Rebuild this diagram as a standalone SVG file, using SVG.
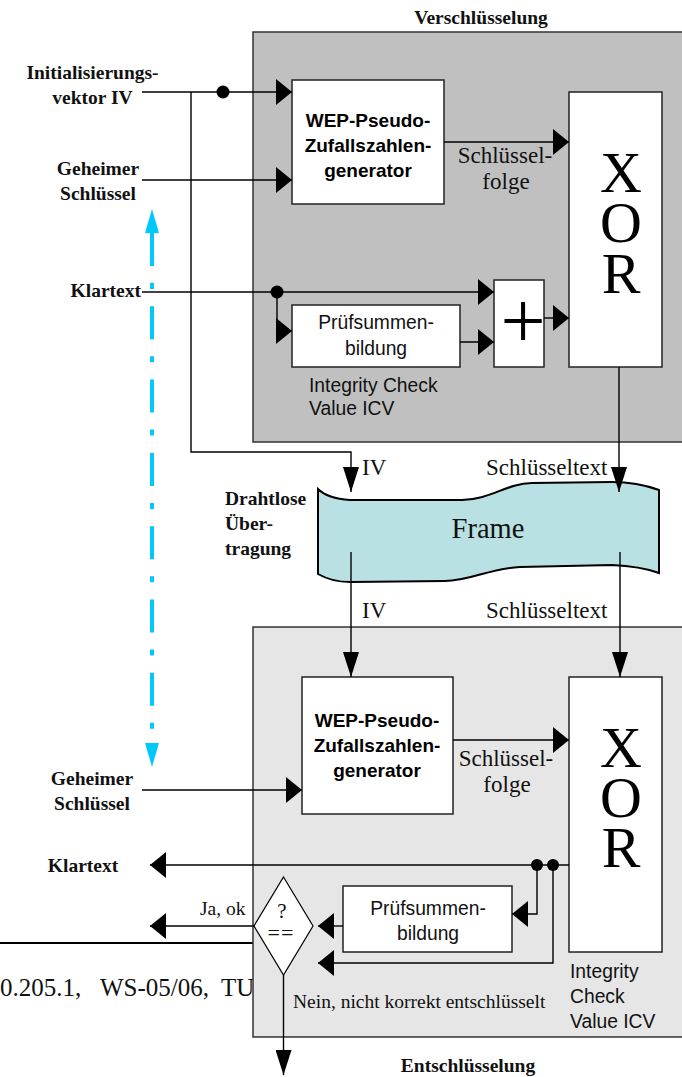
<svg xmlns="http://www.w3.org/2000/svg" width="682" height="1077" viewBox="0 0 682 1077">
<style>
.ln{fill:none;stroke:#000;stroke-width:1.4}
.box{fill:#fff;stroke:#222;stroke-width:1.5}
.lb{font-family:"Liberation Serif",serif;font-weight:bold;font-size:19.5px;fill:#111}
.sf{font-family:"Liberation Serif",serif;font-size:23px;fill:#111}
.sm{font-family:"Liberation Serif",serif;font-size:19.5px;fill:#111}
.sn{font-family:"Liberation Sans",Arial,sans-serif;font-size:19.3px;fill:#111}
.wep{font-family:"Liberation Sans",Arial,sans-serif;font-weight:bold;font-size:19px;fill:#000}
.xor{font-family:"Liberation Serif",serif;font-size:58px;fill:#000}
.mid{text-anchor:middle}
</style>
<defs>
<marker id="ah" markerUnits="userSpaceOnUse" markerWidth="16" markerHeight="26" refX="16" refY="13" orient="auto" viewBox="0 0 16 26"><path d="M0,0 L16,13 L0,26 z" fill="#000"/></marker>
<marker id="av" markerUnits="userSpaceOnUse" markerWidth="25" markerHeight="16" refX="25" refY="8" orient="auto" viewBox="0 0 25 16"><path d="M0,0 L25,8 L0,16 z" fill="#000"/></marker>
<marker id="ab" markerUnits="userSpaceOnUse" markerWidth="24" markerHeight="14" refX="0" refY="7" orient="auto-start-reverse" viewBox="0 0 24 14"><path d="M0,0 L24,7 L0,14 z" fill="#00c8f8"/></marker>
</defs>

<!-- footer (partially covered by the lower box) -->
<g id="footer">
<line x1="0" y1="943" x2="253" y2="943" stroke="#000" stroke-width="2"/>
<text y="996" style="font-family:'Liberation Serif',serif;font-size:25px;fill:#111"><tspan x="0">0.205.1,</tspan><tspan x="100">WS-05/06,</tspan><tspan x="221">TU</tspan></text>
</g>

<g id="verschluesselung">
<rect x="253" y="32" width="440" height="410" fill="#c0c0c0" stroke="#333" stroke-width="1.5"/>
<text class="lb mid" x="481" y="24">Verschlüsselung</text>
</g>
<g id="entschluesselung">
<rect x="253" y="627" width="440" height="410" fill="#e6e6e6" stroke="#333" stroke-width="1.5"/>
<text class="lb mid" x="468" y="1072">Entschlüsselung</text>
</g>

<g id="frame">
<path d="M318,489 C325,496 335,499 350,500 L462,500 C492,499 505,484 532,483 L612,482 C635,482 648,486 659,490 L659,573 C648,569 635,566 612,565 L520,567 C490,568 470,581 445,581 L350,582 C335,582 325,578 318,574 Z" fill="#b9e0e3" stroke="#000" stroke-width="2"/>
<text class="mid" x="488" y="538" style="font-family:'Liberation Serif',serif;font-size:28.5px;fill:#111">Frame</text>
</g>

<g id="wep1">
<rect class="box" x="292" y="80" width="152" height="124"/>
<text class="wep mid" x="368" y="127">WEP-Pseudo-</text>
<text class="wep mid" x="368" y="152">Zufallszahlen-</text>
<text class="wep mid" x="368" y="177">generator</text>
</g>
<g id="xor1">
<rect class="box" x="569" y="92" width="93" height="275"/>
<text class="xor mid" x="621" y="192">X<tspan x="621" dy="50">O</tspan><tspan x="621" dy="51">R</tspan></text>
</g>
<g id="plus">
<rect class="box" x="494" y="280" width="50" height="87"/>
<text class="mid" x="523" y="348" style="font-family:'Liberation Serif',serif;font-size:80px;fill:#000">+</text>
</g>
<g id="pruef1">
<rect class="box" x="292" y="305" width="168" height="62"/>
<text class="sn mid" x="376" y="329">Prüfsummen-</text>
<text class="sn mid" x="376" y="355">bildung</text>
<text class="sn" x="309" y="392">Integrity Check</text>
<text class="sn" x="309" y="415">Value ICV</text>
</g>

<g id="wep2">
<rect class="box" x="302" y="677" width="151" height="137"/>
<text class="wep mid" x="377" y="727">WEP-Pseudo-</text>
<text class="wep mid" x="377" y="752">Zufallszahlen-</text>
<text class="wep mid" x="377" y="777">generator</text>
</g>
<g id="xor2">
<rect class="box" x="569" y="677" width="93" height="275"/>
<text class="xor mid" x="621" y="767">X<tspan x="621" dy="50">O</tspan><tspan x="621" dy="50">R</tspan></text>
<text class="sn" x="570" y="978">Integrity</text>
<text class="sn" x="570" y="1003">Check</text>
<text class="sn" x="570" y="1028">Value ICV</text>
</g>
<g id="pruef2">
<rect class="box" x="343" y="886" width="169" height="66"/>
<text class="sn mid" x="428" y="915">Prüfsummen-</text>
<text class="sn mid" x="428" y="940">bildung</text>
</g>
<g id="vergleich">
<polygon points="283.5,877 313,926 283.5,975 254,926" fill="#fff" stroke="#000" stroke-width="1.2"/>
<text class="mid" x="282" y="918" style="font-family:'Liberation Serif',serif;font-size:21px;fill:#111">?</text>
<text class="mid" x="281" y="940" style="font-family:'Liberation Serif',serif;font-size:22px;fill:#111;letter-spacing:1px">==</text>
</g>

<g id="labels">
<text class="lb mid" x="92.5" y="79">Initialisierungs-</text>
<text class="lb mid" x="92.5" y="104">vektor IV</text>
<text class="lb mid" x="98" y="175">Geheimer</text>
<text class="lb mid" x="98" y="200">Schlüssel</text>
<text class="lb" x="141" y="297" text-anchor="end">Klartext</text>
<text class="sf mid" x="505" y="163">Schlüssel-</text>
<text class="sf mid" x="506" y="189">folge</text>
<text class="sf" x="362" y="475">IV</text>
<text class="sf" x="486" y="475">Schlüsseltext</text>
<text class="lb" x="225" y="505">Drahtlose</text>
<text class="lb" x="225" y="530">Über-</text>
<text class="lb" x="225" y="555">tragung</text>
<text class="sf" x="362" y="618">IV</text>
<text class="sf" x="486" y="618">Schlüsseltext</text>
<text class="sf mid" x="506" y="766">Schlüssel-</text>
<text class="sf mid" x="507" y="792">folge</text>
<text class="lb mid" x="92" y="785">Geheimer</text>
<text class="lb mid" x="92" y="810">Schlüssel</text>
<text class="lb mid" x="83" y="872">Klartext</text>
<text class="sm" x="200" y="915">Ja, ok</text>
<text class="sm" x="293" y="1008">Nein, nicht korrekt entschlüsselt</text>
</g>

<g id="connectors">
<path class="ln" d="M142,92 H292" marker-end="url(#ah)"/>
<path class="ln" d="M191,92 V452 H351 V492" marker-end="url(#av)"/>
<path class="ln" d="M142,180 H292" marker-end="url(#ah)"/>
<path class="ln" d="M142,292 H494" marker-end="url(#ah)"/>
<path class="ln" d="M277,292 V331 H292" marker-end="url(#ah)"/>
<path class="ln" d="M460,342 H494" marker-end="url(#ah)"/>
<path class="ln" d="M544,318 H569" marker-end="url(#ah)"/>
<path class="ln" d="M444,142 H569" marker-end="url(#ah)"/>
<path class="ln" d="M619,367 V492" marker-end="url(#av)"/>
<path class="ln" d="M351,552 V677" marker-end="url(#av)"/>
<path class="ln" d="M620,552 V677" marker-end="url(#av)"/>
<path class="ln" d="M453,740 H569" marker-end="url(#ah)"/>
<path class="ln" d="M142,790 H302" marker-end="url(#ah)"/>
<path class="ln" d="M569,865 H150" marker-end="url(#ah)"/>
<path class="ln" d="M537,865 V914 H512" marker-end="url(#ah)"/>
<path class="ln" d="M553,865 V963 H318" marker-end="url(#ah)"/>
<path class="ln" d="M343,926 H318" marker-end="url(#ah)"/>
<path class="ln" d="M254,926 H150" marker-end="url(#ah)"/>
<path class="ln" d="M283.5,975 V1075" marker-end="url(#av)"/>
<path d="M152,233 V743" fill="none" stroke="#00c8f8" stroke-width="4" stroke-dasharray="33 17 6 17.3" marker-start="url(#ab)" marker-end="url(#ab)"/>
<circle cx="223" cy="92" r="6.5" fill="#000"/>
<circle cx="277" cy="292" r="6.5" fill="#000"/>
<circle cx="537" cy="865" r="6" fill="#000"/>
<circle cx="553" cy="865" r="6" fill="#000"/>
</g>
</svg>
